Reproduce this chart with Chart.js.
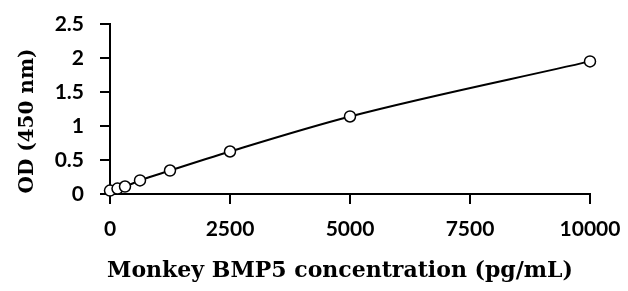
<!DOCTYPE html>
<html>
<head>
<meta charset="utf-8">
<script src="https://cdn.jsdelivr.net/npm/chart.js@4/dist/chart.umd.min.js"></script>
<style>
  html, body { margin: 0; padding: 0; background: #fff; }
  #wrap { width: 628px; height: 291px; }
</style>
</head>
<body>
<div id="wrap"><canvas id="stdCurve" width="628" height="291"></canvas></div>
<script>
// standard curve readings
const concentrations = [0, 156.25, 312.5, 625, 1250, 2500, 5000, 10000];
const odValues = [0.05, 0.08, 0.11, 0.2, 0.345, 0.625, 1.14, 1.95];
const xTicks = [0, 2500, 5000, 7500, 10000];
const yTicks = [0, 0.5, 1, 1.5, 2, 2.5];

const xLabel = 'Monkey BMP5 concentration (pg/mL)';
const yLabel = 'OD (450 nm)';

const points = concentrations.map((c, i) => ({x: c, y: odValues[i]}));

const tickFont = {family: 'Lato', weight: 'bold', size: 21};

// axis titles sit a little off-centre in the original, so draw them by hand
const axisTitles = {
    id: 'axisTitles',
    afterDraw(chart) {
        const {ctx, chartArea: {left, right, top, bottom}} = chart;
        ctx.save();
        ctx.fillStyle = '#000';
        ctx.textAlign = 'center';
        ctx.textBaseline = 'alphabetic';
        ctx.font = 'bold 22px "DejaVu Serif"';
        ctx.fillText(xLabel, (left + right) / 2 - 10, 277);
        ctx.translate(33, (top + bottom) / 2 + 12);
        ctx.rotate(-Math.PI / 2);
        ctx.font = 'bold 20px "DejaVu Serif"';
        ctx.fillText(yLabel, 0, 0);
        ctx.restore();
    }
};

const ctx = document.getElementById('stdCurve').getContext('2d');
new Chart(ctx, {
    type: 'scatter',
    data: {
        datasets: [{
            data: points,
            showLine: true,
            clip: false,
            borderColor: '#000',
            borderWidth: 2,
            cubicInterpolationMode: 'monotone',
            pointRadius: 5.5,
            pointBorderWidth: 1.5,
            pointBackgroundColor: '#fff',
            pointBorderColor: '#000'
        }]
    },
    options: {
        responsive: false,
        animation: false,
        layout: {padding: {top: 24, right: 38, left: 0, bottom: 0}},
        plugins: {
            legend: {display: false},
            tooltip: {enabled: false}
        },
        scales: {
            x: {
                type: 'linear',
                min: 0,
                max: 10000,
                afterBuildTicks: (scale) => { scale.ticks = xTicks.map(v => ({value: v})); },
                afterFit: (scale) => {
                    scale.height = 97;
                    scale.paddingLeft = 0;
                    scale.paddingRight = 0;
                },
                border: {color: '#000', width: 2},
                grid: {drawOnChartArea: false, drawTicks: true, tickLength: 10, color: '#000', lineWidth: 2},
                ticks: {color: '#000', font: tickFont, padding: 13, maxRotation: 0, callback: (v) => String(v)}
            },
            y: {
                min: 0,
                max: 2.5,
                afterBuildTicks: (scale) => { scale.ticks = yTicks.map(v => ({value: v})); },
                afterFit: (scale) => {
                    scale.width = 110;
                    scale.paddingTop = 0;
                    scale.paddingBottom = 0;
                },
                border: {color: '#000', width: 2},
                grid: {drawOnChartArea: false, drawTicks: true, tickLength: 10, color: '#000', lineWidth: 2},
                ticks: {color: '#000', font: tickFont, padding: 16, callback: (v) => String(v)}
            }
        }
    },
    plugins: [axisTitles]
});
</script>
</body>
</html>
